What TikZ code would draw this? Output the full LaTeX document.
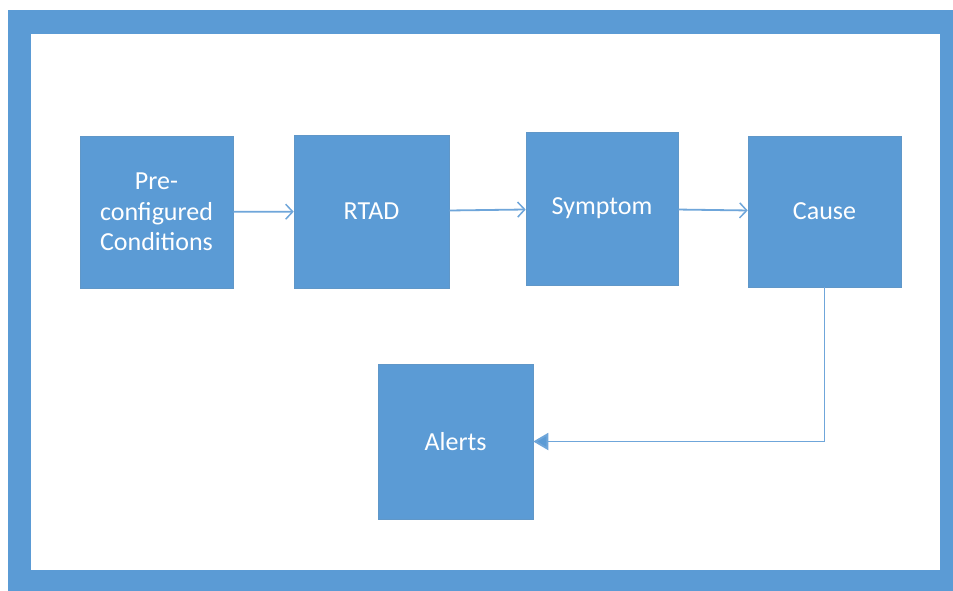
\documentclass[tikz,border=0pt]{standalone}
\usepackage{fontspec}
\setmainfont{Carlito}
\usetikzlibrary{arrows.meta}
\definecolor{officeblue}{HTML}{5B9BD5}
\definecolor{lineblue}{HTML}{6FA6DA}
\tikzset{
  blockbox/.style={rectangle, fill=officeblue, draw=officeblue!85!gray, line width=0.6pt,
    text=white, align=center, inner sep=0pt,
    font=\fontsize{26}{30.5}\selectfont},
  openarrow/.style={draw=lineblue, line width=1.8pt, -{Straight Barb[length=7pt,width=15pt,line width=1.5pt]}},
  fillarrow/.style={draw=lineblue, line width=1.9pt, -{Triangle[length=15pt,width=17pt,fill=officeblue]}}
}
\begin{document}
\begin{tikzpicture}[x=1pt,y=-1pt]
\useasboundingbox (0,0) rectangle (953,590);
% frame
\fill[officeblue] (8,10) rectangle (960,600);
\fill[white] (31,34) rectangle (940,570);
% blocks
\node[blockbox, minimum width=153pt, minimum height=152pt] (pre) at (156.5,212) {Pre-\\configured\\Conditions};
\node[blockbox, minimum width=155pt, minimum height=153pt] (rtad) at (371.5,211.5) {RTAD};
\node[blockbox, minimum width=152pt, minimum height=153pt] (sym) at (602,208.5) {Symptom};
\node[blockbox, minimum width=153pt, minimum height=151pt] (cause) at (824.5,211.5) {Cause};
\node[blockbox, minimum width=155pt, minimum height=155pt] (alerts) at (455.5,441.5) {Alerts};
% connectors
\draw[openarrow] (pre) -- (rtad);
\draw[openarrow] (rtad) -- (sym);
\draw[openarrow] (sym) -- (cause);
\draw[fillarrow] (cause.south) |- (alerts.east);
\end{tikzpicture}
\end{document}
